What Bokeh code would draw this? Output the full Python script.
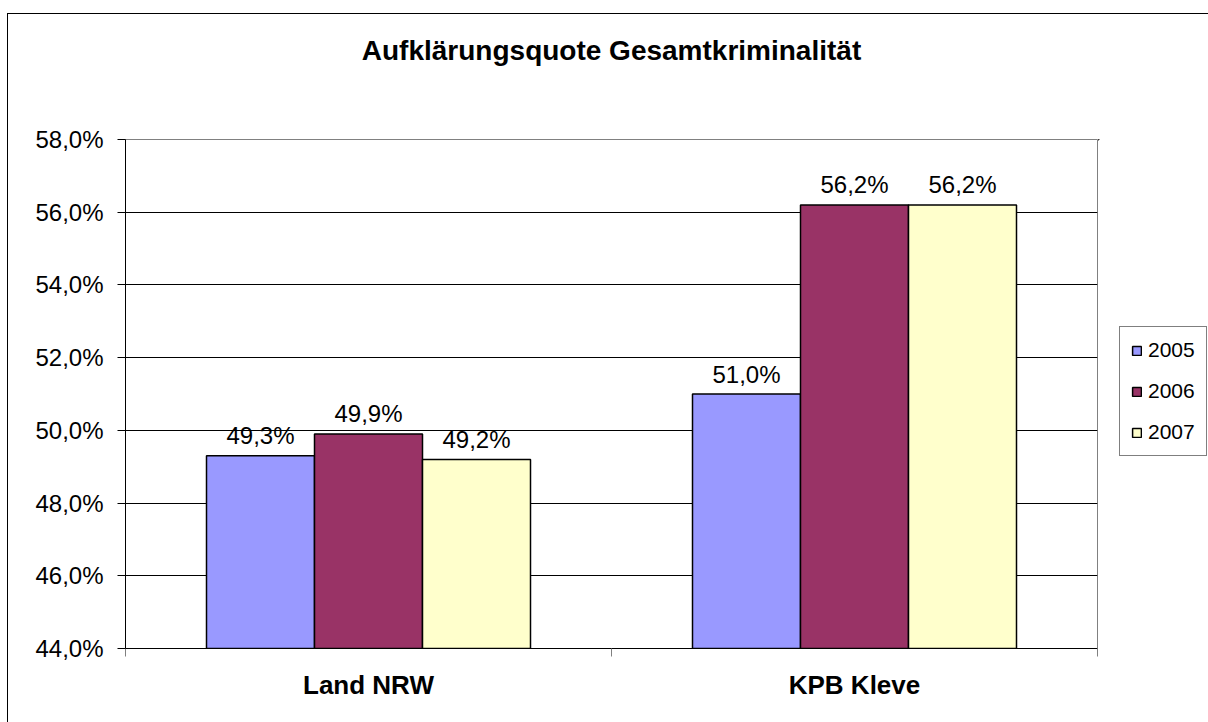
from bokeh.plotting import figure
from bokeh.layouts import row
from bokeh.models import Range1d, FixedTicker, ColumnDataSource, Legend, LegendItem, Title
from bokeh.transform import dodge
from bokeh.core.properties import value
from bokeh.embed import file_html
from bokeh.resources import INLINE

title_text = "Aufklärungsquote Gesamtkriminalität"
categories = ["Land NRW", "KPB Kleve"]
years = ["2005", "2006", "2007"]
q2005 = [49.3, 51.0]
q2006 = [49.9, 56.2]
q2007 = [49.2, 56.2]
y_ticks = [44, 46, 48, 50, 52, 54, 56, 58]
y_tick_labels = ["44,0%", "46,0%", "48,0%", "50,0%", "52,0%", "54,0%", "56,0%", "58,0%"]

colors = ["#9999FF", "#993366", "#FFFFCC"]
FONT = "Liberation Sans"

def fmt(v):
    return f"{v:.1f}".replace(".", ",") + "%"

xpos = [i + 0.5 for i in range(len(categories))]
series = [q2005, q2006, q2007]
data = {"x": xpos}
for y, s in zip(years, series):
    data[y] = s
    data[y + "_lbl"] = [fmt(v) for v in s]
src = ColumnDataSource(data)

# ---- main chart ----
p = figure(width=1090, height=708, output_backend="svg", toolbar_location=None, title=None,
           x_range=Range1d(0, 2), y_range=Range1d(44, 58),
           min_border_left=117, min_border_right=1, min_border_top=125, min_border_bottom=74)
p.background_fill_color = "white"
p.border_fill_color = "white"
p.outline_line_color = "#808080"
p.outline_line_width = 1

# spacer (closest to the frame), then the visible title outside it
p.add_layout(Title(text=" ", text_font_size="1px", standoff=71), "above")
p.add_layout(Title(text=title_text, align="center", vertical_align="bottom", standoff=0,
                   text_font=FONT, text_font_size="28px", text_font_style="bold",
                   text_color="black"), "above")

bw = 1 / 4.5
offsets = [-bw, 0, bw]
for y, c, off in zip(years, colors, offsets):
    p.vbar(x=dodge("x", off, range=p.x_range), top=y, bottom=44, width=bw, source=src,
           fill_color=c, line_color="black", line_width=1.5)
    p.text(x=dodge("x", off, range=p.x_range), y=y, text=y + "_lbl", source=src,
           text_align="center", text_baseline="alphabetic", y_offset=-20,
           text_font=value(FONT), text_font_size="24px", text_color="black")

p.yaxis.ticker = FixedTicker(ticks=y_ticks)
p.yaxis.major_label_overrides = {t: l for t, l in zip(y_ticks, y_tick_labels)}
p.yaxis.major_label_text_font = FONT
p.yaxis.major_label_text_font_size = "24px"
p.yaxis.major_label_text_color = "black"
p.yaxis.major_tick_out = 8
p.yaxis.major_tick_in = 0
p.yaxis.minor_tick_line_color = None
p.yaxis.major_label_standoff = 14
p.yaxis.axis_line_color = "black"
p.yaxis.major_tick_line_color = "black"

p.xaxis.ticker = FixedTicker(ticks=xpos, minor_ticks=[0, 1, 2])
p.xaxis.major_label_overrides = {x: c for x, c in zip(xpos, categories)}
p.xaxis.major_label_text_font = FONT
p.xaxis.major_label_text_font_style = "bold"
p.xaxis.major_label_text_font_size = "26px"
p.xaxis.major_label_text_color = "black"
p.xaxis.major_tick_out = 0
p.xaxis.major_tick_in = 0
p.xaxis.major_tick_line_color = None
p.xaxis.minor_tick_out = 8
p.xaxis.minor_tick_in = 0
p.xaxis.minor_tick_line_color = "#808080"
p.xaxis.major_label_standoff = 13
p.xaxis.axis_line_color = "black"

p.xgrid.visible = False
p.ygrid.grid_line_color = "black"
p.ygrid.grid_line_width = 1

# ---- legend panel (its own small canvas to the right of the plot area) ----
lf = figure(width=110, height=708, output_backend="svg", toolbar_location=None, title=None,
            x_axis_type=None, y_axis_type=None, x_range=Range1d(100, 101), y_range=Range1d(0, 1),
            min_border_left=0, min_border_right=0, min_border_top=0, min_border_bottom=0)
lf.outline_line_color = None
lf.xgrid.visible = False
lf.ygrid.visible = False
lf.background_fill_color = "white"
lf.border_fill_color = "white"

items = []
for y, c in zip(years, colors):
    # same bars, far outside this panel's visible range: only their legend swatch shows
    r = lf.vbar(x="x", top=y, bottom=44, width=bw, source=src,
                fill_color=c, line_color="black", line_width=1.5)
    items.append(LegendItem(label=y, renderers=[r]))

legend = Legend(items=items, location=(21, 192), orientation="vertical",
                glyph_width=11, glyph_height=11, label_height=20, spacing=17,
                padding=11, margin=0, label_standoff=6,
                label_text_font=FONT, label_text_font_size="21px", label_text_color="black",
                border_line_color="black", border_line_width=1,
                background_fill_color="white", background_fill_alpha=1)
lf.add_layout(legend, "center")

layout = row(p, lf, spacing=0)
layout.styles = {"border-left": "1px solid black", "border-top": "1px solid black",
                 "margin-top": "13px", "margin-left": "7px"}

open("out.html", "w").write(file_html(layout, INLINE))
